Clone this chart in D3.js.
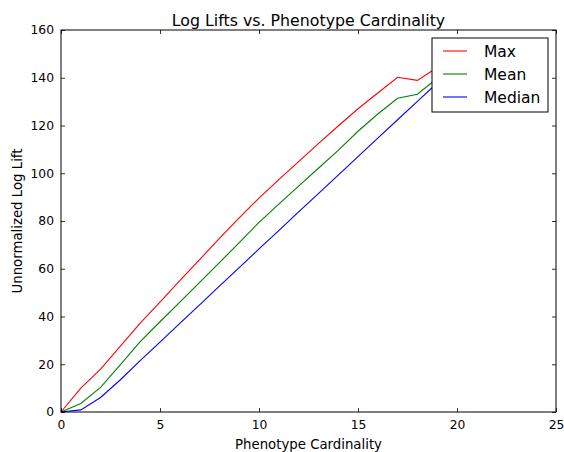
<!DOCTYPE html>
<html>
<head>
<meta charset="utf-8">
<script src="https://cdn.jsdelivr.net/npm/d3@7"></script>
<style>
  body { margin: 0; background: #fff; }
  svg { font-family: 'DejaVu Sans', sans-serif; }
</style>
</head>
<body>
<div id="chart"></div>
<script>
// data
const cardinality = [0, 1, 2, 3, 4, 5, 6, 7, 8, 9, 10, 11, 12, 13, 14, 15, 16, 17, 18, 19, 20];
const maxLift =    [0, 10, 18, 27.6, 37.2, 46, 55, 63.8, 72.7, 81.3, 89.6, 97.3, 104.9, 112.4, 119.8, 127, 133.6, 140.2, 138.9, 144.3, 148.5];
const meanLift =   [0, 3.6, 10.3, 19.8, 29.5, 37.8, 46, 54.3, 62.6, 70.9, 79.4, 87.1, 94.6, 102.1, 109.6, 117.6, 124.8, 131.4, 133.1, 139.8, 145.5];
const medianLift = [0, 0.9, 6.1, 13.5, 21.5, 29.3, 37.1, 44.9, 52.7, 60.5, 68.3, 76, 83.8, 91.5, 99.2, 107, 114.7, 122.4, 130.1, 137.8, 145];
const seriesNames = ['Max', 'Mean', 'Median'];
const seriesColors = ['#ff0000', '#008000', '#0000ff'];
const xTicks = [0, 5, 10, 15, 20, 25];
const yTicks = [0, 20, 40, 60, 80, 100, 120, 140, 160];

const width = 564, height = 452;
const margin = { top: 30, right: 8, bottom: 40, left: 61 };

const svg = d3.select('#chart')
  .append('svg')
  .attr('width', width)
  .attr('height', height);

const x = d3.scaleLinear().domain([0, 25]).range([margin.left, width - margin.right]);
const y = d3.scaleLinear().domain([0, 160]).range([height - margin.bottom, margin.top]);

const series = [maxLift, meanLift, medianLift];

const line = d3.line()
  .x((d, i) => x(cardinality[i]))
  .y((d) => y(d));

// lines
svg.append('g')
  .selectAll('path')
  .data(series)
  .join('path')
  .attr('fill', 'none')
  .attr('stroke', (d, i) => seriesColors[i])
  .attr('stroke-width', 1.1)
  .attr('d', line);

// axes, ticks pointing inward on all sides (classic look)
const tickLen = 4;
const xBottom = svg.append('g')
  .attr('transform', `translate(0,${y(0)})`)
  .call(d3.axisBottom(x).tickValues(xTicks).tickSizeInner(-tickLen).tickSizeOuter(0).tickPadding(8));
const xTop = svg.append('g')
  .attr('transform', `translate(0,${y(160)})`)
  .call(d3.axisTop(x).tickValues(xTicks).tickSizeInner(-tickLen).tickSizeOuter(0).tickFormat(''));
const yLeft = svg.append('g')
  .attr('transform', `translate(${x(0)},0)`)
  .call(d3.axisLeft(y).tickValues(yTicks).tickSizeInner(-tickLen).tickSizeOuter(0).tickPadding(7));
const yRight = svg.append('g')
  .attr('transform', `translate(${x(25)},0)`)
  .call(d3.axisRight(y).tickValues(yTicks).tickSizeInner(-tickLen).tickSizeOuter(0).tickFormat(''));

[xBottom, xTop, yLeft, yRight].forEach((g) => {
  g.select('.domain').remove();
  g.selectAll('.tick line').attr('stroke', '#000').attr('stroke-width', 0.8);
  g.selectAll('.tick text')
    .attr('fill', '#000')
    .style('font-size', '12.3px')
    .style('font-family', 'DejaVu Sans');
});

// frame
svg.append('rect')
  .attr('x', x(0))
  .attr('y', y(160))
  .attr('width', x(25) - x(0))
  .attr('height', y(0) - y(160))
  .attr('fill', 'none')
  .attr('stroke', '#000')
  .attr('stroke-width', 1);

// title and labels
svg.append('text')
  .attr('x', (x(0) + x(25)) / 2)
  .attr('y', 25.5)
  .attr('text-anchor', 'middle')
  .style('font-size', '15.8px')
  .text('Log Lifts vs. Phenotype Cardinality');

svg.append('text')
  .attr('x', (x(0) + x(25)) / 2)
  .attr('y', 448.5)
  .attr('text-anchor', 'middle')
  .style('font-size', '13.3px')
  .text('Phenotype Cardinality');

svg.append('text')
  .attr('transform', `translate(22,${(y(0) + y(160)) / 2}) rotate(-90)`)
  .attr('text-anchor', 'middle')
  .style('font-size', '13.3px')
  .text('Unnormalized Log Lift');

// legend
const legend = svg.append('g').attr('transform', 'translate(432,38)');
legend.append('rect')
  .attr('width', 116)
  .attr('height', 74)
  .attr('fill', '#fff')
  .attr('stroke', '#000')
  .attr('stroke-width', 1);

const rows = legend.selectAll('g.row')
  .data(seriesNames)
  .join('g')
  .attr('class', 'row')
  .attr('transform', (d, i) => `translate(0,${13 + i * 23})`);

rows.append('line')
  .attr('x1', 11)
  .attr('x2', 35)
  .attr('stroke', (d, i) => seriesColors[i])
  .attr('stroke-width', 1.1);

rows.append('text')
  .attr('x', 52)
  .attr('dy', '0.36em')
  .style('font-size', '15.5px')
  .text((d) => d);
</script>
</body>
</html>
